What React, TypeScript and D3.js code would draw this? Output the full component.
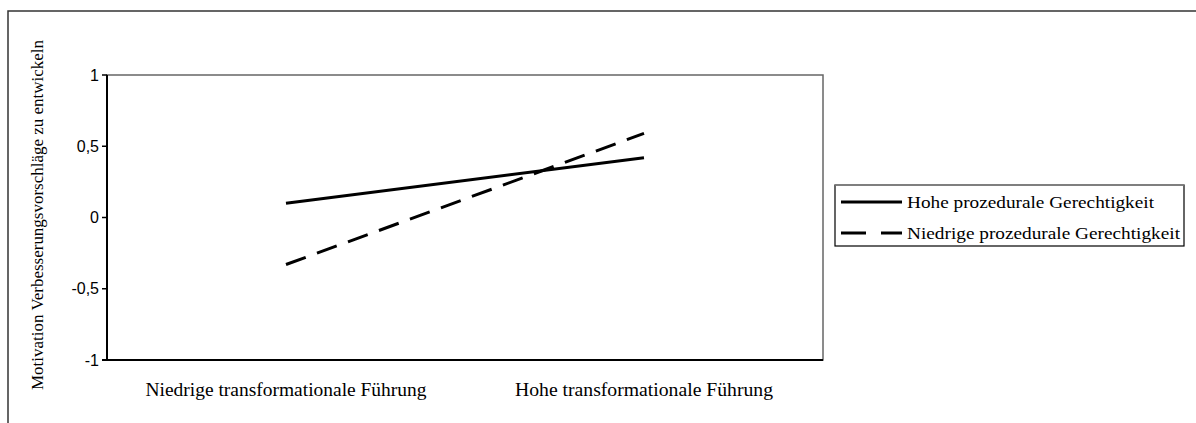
import React from "react";
import * as d3 from "d3";

const categories = ["Niedrige transformationale Führung", "Hohe transformationale Führung"];
const seriesNames = ["Hohe prozedurale Gerechtigkeit", "Niedrige prozedurale Gerechtigkeit"];
const hoheValues = [0.1, 0.42];
const niedrigeValues = [-0.33, 0.59];
const yTicks = [-1, -0.5, 0, 0.5, 1];
const yTitle = "Motivation Verbesserungsvorschläge zu entwickeln";

const W = 1196;
const H = 423;
const plot = { left: 107, right: 823, top: 75, bottom: 360 };

export default function App() {
  const x = d3.scaleBand().domain(categories).range([plot.left, plot.right]);
  const y = d3.scaleLinear().domain([-1, 1]).range([plot.bottom, plot.top]);
  const line = d3
    .line<number>()
    .x((_, i) => (x(categories[i]) as number) + x.bandwidth() / 2)
    .y((d) => y(d));
  const fmt = (v: number) => String(v).replace(".", ",");
  const serif = "'Liberation Serif', 'Times New Roman', serif";
  const sans = "'Liberation Sans', Arial, sans-serif";
  const series = [
    { name: seriesNames[0], values: hoheValues, dash: "none", len: 247 },
    { name: seriesNames[1], values: niedrigeValues, dash: "21 12", len: 273 },
  ];
  const catLens = [281, 258];
  const legend = { x: 835, y: 185, w: 349, h: 61 };
  return (
    <svg width={W} height={H} style={{ position: "absolute", left: 0, top: 0, background: "#fff" }}>
      <rect x={0} y={0} width={W} height={H} fill="#fff" />
      {/* outer frame */}
      <rect x={8} y={11} width={W + 10} height={H + 10} fill="none" stroke="#333" strokeWidth={1.5} />
      {/* plot frame */}
      <rect x={plot.left} y={plot.top} width={plot.right - plot.left} height={plot.bottom - plot.top} fill="none" stroke="#666" strokeWidth={1.5} />
      <line x1={plot.left} x2={plot.left} y1={plot.top} y2={plot.bottom} stroke="#000" strokeWidth={2} />
      <line x1={plot.left - 5} x2={plot.right} y1={plot.bottom} y2={plot.bottom} stroke="#000" strokeWidth={2} />
      {yTicks.map((t) => (
        <g key={t}>
          <line x1={plot.left - 5} x2={plot.left} y1={y(t)} y2={y(t)} stroke="#000" strokeWidth={1.5} />
          <text x={plot.left - 8} y={y(t)} dy="0.35em" textAnchor="end" fontFamily={sans} fontSize={16} fill="#000">
            {fmt(t)}
          </text>
        </g>
      ))}
      {categories.map((c, i) => (
        <text key={c} x={(x(c) as number) + x.bandwidth() / 2} y={396} textAnchor="middle" fontFamily={serif} fontSize={19} textLength={catLens[i]} lengthAdjust="spacingAndGlyphs" fill="#000">
          {c}
        </text>
      ))}
      <text transform={`translate(43,215) rotate(-90)`} textAnchor="middle" fontFamily={serif} fontSize={17} textLength={350} lengthAdjust="spacingAndGlyphs" fill="#000">
        {yTitle}
      </text>
      {series.map((s) => (
        <path key={s.name} d={line(s.values) || ""} fill="none" stroke="#000" strokeWidth={3} strokeDasharray={s.dash} />
      ))}
      {/* legend */}
      <rect x={legend.x} y={legend.y} width={legend.w} height={legend.h} fill="#fff" stroke="#000" strokeWidth={1.2} />
      <line x1={legend.x} x2={legend.x + legend.w} y1={legend.y} y2={legend.y} stroke="#888" strokeWidth={1.5} />
      {series.map((s, i) => {
        const ly = 202 + i * 31;
        return (
          <g key={s.name}>
            <line x1={841} x2={902} y1={ly} y2={ly} stroke="#000" strokeWidth={3} strokeDasharray={s.dash === "none" ? "none" : "25 15"} />
            <text x={907} y={ly} dy="0.35em" fontFamily={serif} fontSize={17.5} textLength={s.len} lengthAdjust="spacingAndGlyphs" fill="#000">
              {s.name}
            </text>
          </g>
        );
      })}
    </svg>
  );
}
